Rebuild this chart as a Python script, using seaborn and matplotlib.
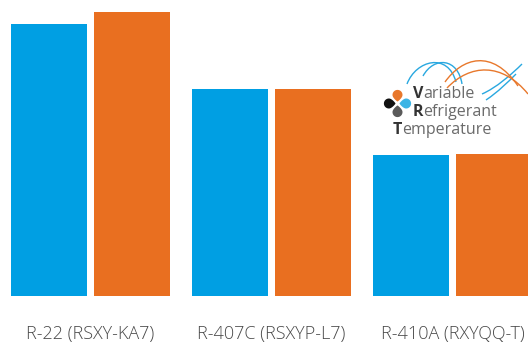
import matplotlib
matplotlib.use("Agg")
import matplotlib.pyplot as plt
from matplotlib.path import Path
from matplotlib.patches import PathPatch
import seaborn as sns
import pandas as pd
import numpy as np

# ---- data ----
refrigerants = ["R-22 (RSXY-KA7)", "R-407C (RSXYP-L7)", "R-410A (RXYQQ-T)"]
series_names = ["Series A", "Series B"]
series_a = [272, 207, 141]
series_b = [284, 207, 142]
colors = ["#009FE3", "#E96F20"]

df = pd.DataFrame({
    "refrigerant": refrigerants * 2,
    "series": [series_names[0]] * 3 + [series_names[1]] * 3,
    "value": series_a + series_b,
})

sns.set_theme(style="white")
plt.rcParams["font.family"] = ["Open Sans", "DejaVu Sans"]

W, H = 528, 345
fig = plt.figure(figsize=(W / 100, H / 100), dpi=100)
ax = fig.add_axes([0, 49 / H, 1, 1 - 49 / H])

sns.barplot(data=df, x="refrigerant", y="value", hue="series",
            palette=colors, saturation=1, width=0.917, gap=0.084,
            legend=False, linewidth=0, ax=ax)

ax.set_xlim(-0.5, 2.417)
ax.set_ylim(0, 296)
ax.set_xlabel("")
ax.set_ylabel("")
ax.set_yticks([])
for s in ax.spines.values():
    s.set_visible(False)
ax.tick_params(axis="x", length=0, pad=21, labelsize=13, labelcolor="#4a4a4a")
for lab in ax.get_xticklabels():
    lab.set_fontweight(300)

# ---- logo overlay (pixel coordinates) ----
ov = fig.add_axes([0, 0, 1, 1], zorder=5)
ov.set_xlim(0, W)
ov.set_ylim(H, 0)
ov.axis("off")
ov.patch.set_alpha(0)

def curve(pts, color):
    codes = [Path.MOVETO] + [Path.CURVE4] * (len(pts) - 1)
    ov.add_patch(PathPatch(Path(pts, codes), fill=False, ec=color, lw=1.0))

blue_c, orange_c = "#29A8E0", "#E8782C"
curve([(407, 84), (416, 60), (448, 52), (456, 82)], blue_c)
curve([(423, 76), (434, 56), (458, 58), (462, 84)], blue_c)
curve([(486, 100), (498, 92), (508, 82), (516, 74)], blue_c)
curve([(482, 94), (496, 88), (512, 74), (522, 64)], blue_c)
curve([(445, 82), (462, 58), (492, 48), (518, 86)], orange_c)
curve([(447, 88), (470, 64), (502, 62), (528, 94)], orange_c)

def petal(cx, cy, ang, color, r=5.0, off=8.6, tip=1.5, pull=0.75):
    t = np.linspace(0, 2 * np.pi, 120)
    ux, uy = np.cos(ang), np.sin(ang)
    bx, by = cx + ux * off, cy + uy * off
    xs = bx + r * np.cos(t)
    ys = by + r * np.sin(t)
    d = (np.cos(t) * ux + np.sin(t) * uy)
    k = np.clip(-d, 0, 1) ** 2.5
    tipx, tipy = cx + ux * tip, cy + uy * tip
    xs = xs * (1 - k * pull) + tipx * k * pull
    ys = ys * (1 - k * pull) + tipy * k * pull
    ov.fill(xs, ys, color=color, lw=0)

icx, icy = 397.5, 103.5
petal(icx, icy, -np.pi / 2, "#E8782C")
petal(icx, icy, np.pi, "#111111")
petal(icx, icy, 0, "#3CB4E5")
petal(icx, icy, np.pi / 2, "#5A5A5A")

fs = 11.5
fig.canvas.draw()
for (x, y, first, rest) in [(413, 94, "V", "ariable"),
                            (413, 112, "R", "efrigerant"),
                            (393, 129.5, "T", "emperature")]:
    t1 = ov.text(x, y, first, fontsize=fs, fontweight="bold", color="#333333",
                 va="center", ha="left")
    bb = t1.get_window_extent(renderer=fig.canvas.get_renderer())
    x2 = bb.x1 * W / fig.bbox.width
    ov.text(x2, y, rest, fontsize=fs, color="#6a6a6a", va="center", ha="left")

fig.savefig("out.png", dpi=100)
